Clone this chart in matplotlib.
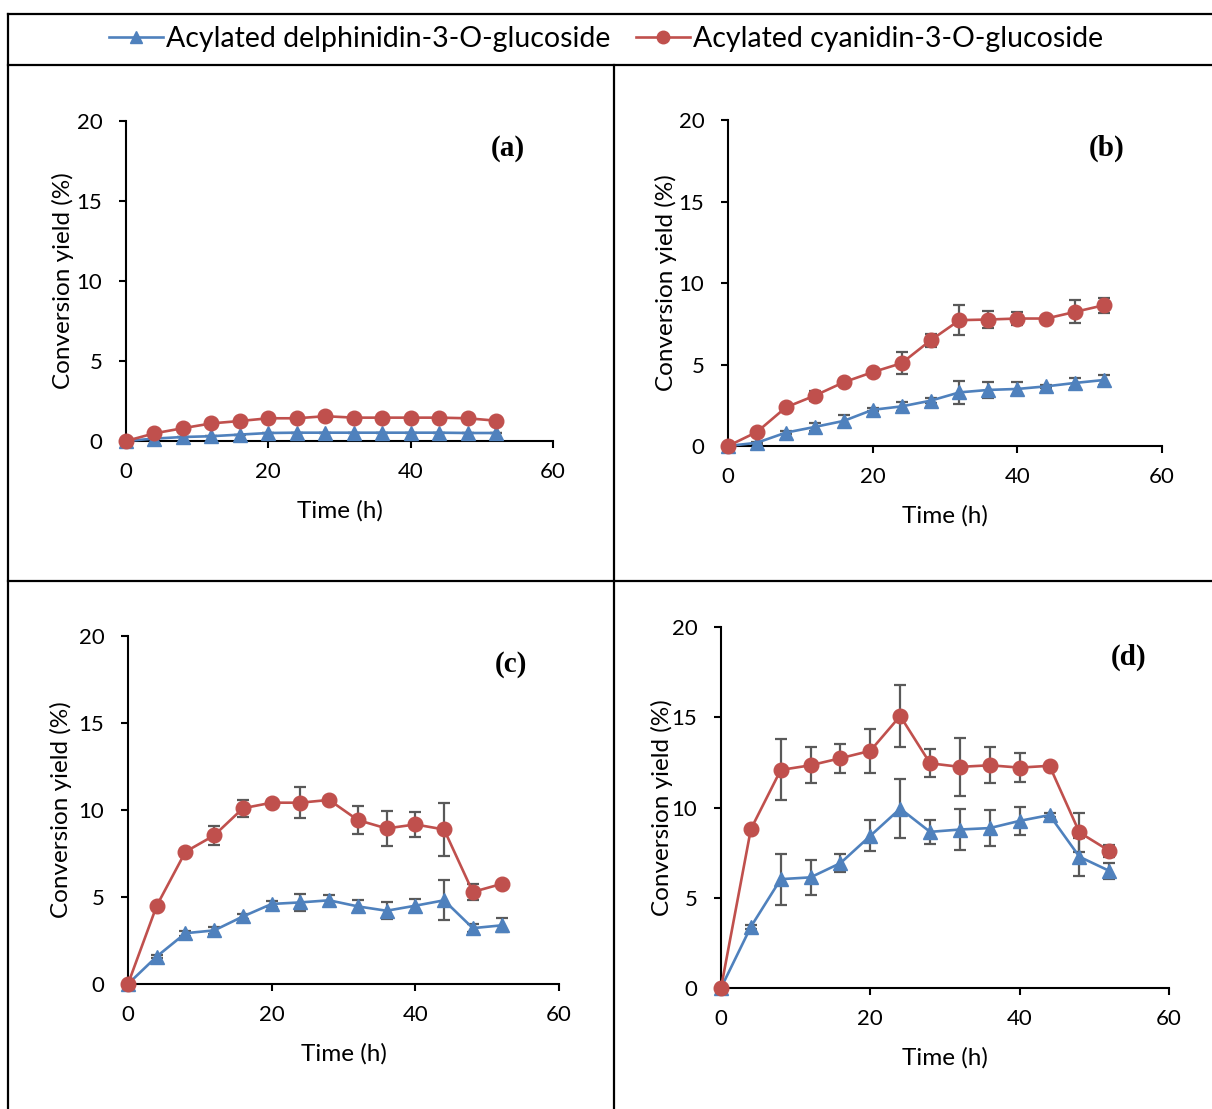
import matplotlib
matplotlib.use("Agg")
import matplotlib.pyplot as plt
from matplotlib.lines import Line2D

plt.rcParams['font.family'] = ['Lato', 'DejaVu Sans']

time_h = [0, 4, 8, 12, 16, 20, 24, 28, 32, 36, 40, 44, 48, 52]
series_names = ["Acylated delphinidin-3-O-glucoside", "Acylated cyanidin-3-O-glucoside"]
panel_labels = ["(a)", "(b)", "(c)", "(d)"]

a_delph = [0, 0.15, 0.25, 0.3, 0.4, 0.5, 0.52, 0.52, 0.52, 0.52, 0.52, 0.52, 0.5, 0.5]
a_delph_err = [0] * 14
a_cyan = [0, 0.48, 0.8, 1.1, 1.25, 1.42, 1.42, 1.55, 1.46, 1.46, 1.46, 1.46, 1.42, 1.27]
a_cyan_err = [0] * 14

b_delph = [0, 0.2, 0.82, 1.17, 1.54, 2.22, 2.43, 2.78, 3.29, 3.44, 3.5, 3.66, 3.87, 4.05]
b_delph_err = [0, 0.05, 0.1, 0.25, 0.35, 0.1, 0.3, 0.15, 0.7, 0.5, 0.4, 0.1, 0.3, 0.28]
b_cyan = [0, 0.86, 2.37, 3.09, 3.91, 4.53, 5.08, 6.48, 7.72, 7.76, 7.82, 7.82, 8.23, 8.64]
b_cyan_err = [0, 0.1, 0.15, 0.3, 0.2, 0.15, 0.69, 0.41, 0.9, 0.5, 0.4, 0.1, 0.7, 0.47]

c_delph = [0, 1.58, 2.92, 3.08, 3.88, 4.6, 4.69, 4.81, 4.46, 4.21, 4.5, 4.81, 3.21, 3.37]
c_delph_err = [0, 0.1, 0.15, 0.2, 0.15, 0.15, 0.48, 0.3, 0.35, 0.5, 0.38, 1.15, 0.25, 0.4]
c_cyan = [0, 4.5, 7.6, 8.54, 10.1, 10.42, 10.42, 10.58, 9.42, 8.94, 9.17, 8.88, 5.29, 5.75]
c_cyan_err = [0, 0.1, 0.15, 0.53, 0.5, 0.15, 0.9, 0.15, 0.82, 1.0, 0.71, 1.52, 0.48, 0.1]

d_delph = [0, 3.39, 6.03, 6.13, 6.92, 8.43, 9.94, 8.65, 8.78, 8.86, 9.26, 9.58, 7.27, 6.49]
d_delph_err = [0, 0.1, 1.41, 0.98, 0.49, 0.85, 1.65, 0.65, 1.13, 1.0, 0.78, 0.1, 1.05, 0.43]
d_cyan = [0, 8.8, 12.08, 12.34, 12.73, 13.14, 15.07, 12.45, 12.25, 12.34, 12.21, 12.31, 8.62, 7.6]
d_cyan_err = [0, 0.1, 1.69, 1.0, 0.81, 1.22, 1.7, 0.78, 1.6, 1.0, 0.8, 0.1, 1.07, 0.35]

x_ticks = [0, 20, 40, 60]
y_ticks = [0, 5, 10, 15, 20]

BLUE = '#4F81BD'
RED = '#C0504D'
ERR = '#595959'

W, H = 1212, 1109
fig = plt.figure(figsize=(W / 100, H / 100), dpi=100)

# panel geometry in pixels: x0, x60, y0, y20, ylabel x, xlabel y, panel label (x,y)
panels = [
    (126, 553, 441, 121, 63, 511, (508, 148)),
    (728, 1162, 446, 120, 666, 516, (1107, 148)),
    (128, 559, 984, 636, 61, 1054, (511, 665)),
    (721, 1169, 988, 627, 662, 1058, (1129, 657)),
]
data = [
    (a_delph, a_delph_err, a_cyan, a_cyan_err),
    (b_delph, b_delph_err, b_cyan, b_cyan_err),
    (c_delph, c_delph_err, c_cyan, c_cyan_err),
    (d_delph, d_delph_err, d_cyan, d_cyan_err),
]

for (x0, x1, y0, y1, ylx, xly, (plx, ply)), (dl, dle, cy, cye), lab in zip(panels, data, panel_labels):
    ax = fig.add_axes([x0 / W, 1 - y0 / H, (x1 - x0) / W, (y0 - y1) / H])
    ax.set_xlim(0, 60)
    ax.set_ylim(0, 20)
    ax.patch.set_alpha(0)
    for s in ['top', 'right']:
        ax.spines[s].set_visible(False)
    for s in ['left', 'bottom']:
        ax.spines[s].set_linewidth(1.5)
    ax.set_xticks(x_ticks)
    ax.set_yticks(y_ticks)
    ax.tick_params(axis='both', direction='out', length=5, width=1.5, labelsize=16)
    ax.tick_params(axis='y', pad=12)
    ax.tick_params(axis='x', pad=10)
    ax.errorbar(time_h, dl, yerr=dle, fmt='none', ecolor=ERR, elinewidth=1.6,
                capsize=4, capthick=1.6, zorder=2, clip_on=False)
    ax.errorbar(time_h, cy, yerr=cye, fmt='none', ecolor=ERR, elinewidth=1.6,
                capsize=4, capthick=1.6, zorder=2, clip_on=False)
    ax.plot(time_h, dl, color=BLUE, lw=1.9, marker='^', ms=10.5,
            markeredgecolor=BLUE, zorder=3, clip_on=False, label=series_names[0])
    ax.plot(time_h, cy, color=RED, lw=1.9, marker='o', ms=10.5,
            markeredgecolor=RED, zorder=4, clip_on=False, label=series_names[1])
    ax.set_ylabel("Conversion yield (%)", fontsize=17.5)
    ax.yaxis.label.set(va='center', ha='center')
    ax.yaxis.set_label_coords((ylx - x0) / (x1 - x0), 0.5)
    ax.set_xlabel("Time (h)", fontsize=17.5)
    ax.xaxis.label.set(va='center', ha='center')
    ax.xaxis.set_label_coords(0.5, -(xly - y0) / (y0 - y1))
    fig.text(plx / W, 1 - ply / H, lab, fontsize=21, fontweight='bold',
             family='Liberation Serif', ha='center', va='center')

leg_handles = [Line2D([0], [0], color=BLUE, lw=1.9, marker='^', ms=9),
               Line2D([0], [0], color=RED, lw=1.9, marker='o', ms=9)]
fig.legend(leg_handles, series_names, loc='center', bbox_to_anchor=(0.5, 1 - 39 / H),
           ncol=2, frameon=False, fontsize=20.5, handlelength=1.9, handletextpad=0.1,
           columnspacing=0.9)

# table-like frame lines
def fline(xs, ys):
    fig.add_artist(Line2D([x / W for x in xs], [1 - y / H for y in ys],
                          color='black', lw=1.6, transform=fig.transFigure))

fline([8, W], [14, 14])
fline([8, W], [65, 65])
fline([8, W], [581, 581])
fline([8, 8], [14, H])
fline([614, 614], [65, H])

fig.savefig("out.png", dpi=100)
